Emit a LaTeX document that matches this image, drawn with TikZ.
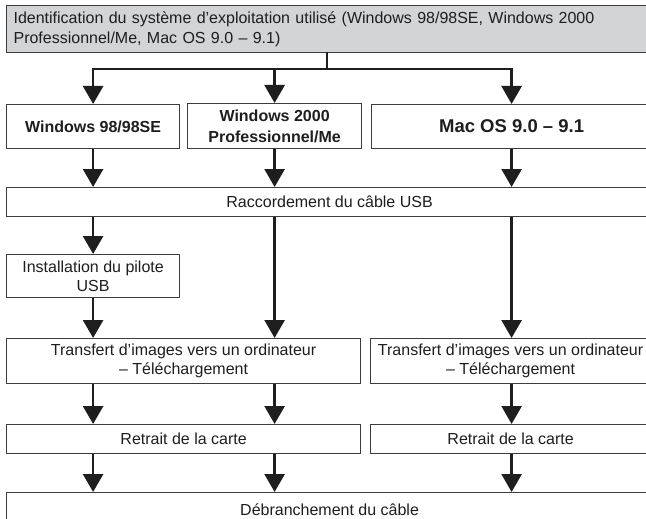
\documentclass[tikz,border=0pt]{standalone}
\usepackage{fontspec}
\setmainfont{Liberation Sans}
\usetikzlibrary{arrows.meta}
\definecolor{boxgray}{HTML}{D3D4D6}
\definecolor{edge}{HTML}{3C3C3C}
\definecolor{ink}{HTML}{1E1E1E}
\begin{document}
\begin{tikzpicture}[x=1pt,y=-1pt,
  box/.style={draw=edge,line width=1.2pt,fill=white,inner sep=0pt,anchor=north west,
    align=center,text=ink,font=\fontsize{16}{19.5}\selectfont},
  boldbox/.style={box,font=\fontsize{16}{21}\selectfont\bfseries},
  arr/.style={draw=ink,line width=2.7pt,-{Triangle[length=18pt,width=20pt]}},
  ln/.style={draw=ink,line width=2.7pt,line cap=rect}]
\clip (0,0) rectangle (646,519);
\fill[white] (0,0) rectangle (646,519);
% nodes
\node[box,fill=boxgray,minimum width=646pt,minimum height=47pt,text width=632pt,align=left] (top) at (6,5)
  {Identification du système d’exploitation utilisé (Windows 98/98SE, Windows 2000\\Professionnel/Me, Mac OS 9.0 – 9.1)};
\node[boldbox,minimum width=173pt,minimum height=44pt] (w98) at (6,104) {Windows 98/98SE};
\node[boldbox,minimum width=174pt,minimum height=45pt] (w2k) at (187,103) {Windows 2000\\Professionnel/Me};
\node[box,font=\fontsize{18.5}{22}\selectfont\bfseries,minimum width=280pt,minimum height=44pt] (mac) at (371,104) {Mac OS 9.0 – 9.1};
\node[box,minimum width=646pt,minimum height=29pt] (racc) at (6,187) {Raccordement du câble USB};
\node[box,minimum width=173pt,minimum height=43pt] (inst) at (6,254) {Installation du pilote\\USB};
\node[box,minimum width=354pt,minimum height=45pt] (tr1) at (6,338) {Transfert d’images vers un ordinateur\\– Téléchargement};
\node[box,minimum width=280pt,minimum height=45pt] (tr2) at (370,338) {Transfert d’images vers un ordinateur\\– Téléchargement};
\node[box,minimum width=354pt,minimum height=29pt] (re1) at (6,424) {Retrait de la carte};
\node[box,minimum width=280pt,minimum height=29pt] (re2) at (370,424) {Retrait de la carte};
\node[box,minimum width=646pt,minimum height=34pt] (deb) at (6,492) {Débranchement du câble};
% connectors
\coordinate (j) at (327,69);
\draw[ln] (top.south -| j) -- (j);
\draw[ln] (w98.north |- j) -- (mac.north |- j);
\draw[arr] (w98.north |- j) -- (w98.north);
\draw[arr] (w2k.north |- j) -- (w2k.north);
\draw[arr] (mac.north |- j) -- (mac.north);
\draw[arr] (w98.south) -- (racc.north -| w98.south);
\draw[arr] (w2k.south) -- (racc.north -| w2k.south);
\draw[arr] (mac.south) -- (racc.north -| mac.south);
\draw[arr] (racc.south -| inst.north) -- (inst.north);
\draw[arr] (inst.south) -- (tr1.north -| inst.south);
\draw[arr] (racc.south -| w2k.south) -- (tr1.north -| w2k.south);
\draw[arr] (racc.south -| mac.south) -- (tr2.north -| mac.south);
\draw[arr] (tr1.south -| w98.south) -- (re1.north -| w98.south);
\draw[arr] (tr1.south -| w2k.south) -- (re1.north -| w2k.south);
\draw[arr] (tr2.south -| mac.south) -- (re2.north -| mac.south);
\draw[arr] (re1.south -| w98.south) -- (deb.north -| w98.south);
\draw[arr] (re1.south -| w2k.south) -- (deb.north -| w2k.south);
\draw[arr] (re2.south -| mac.south) -- (deb.north -| mac.south);
\end{tikzpicture}
\end{document}
